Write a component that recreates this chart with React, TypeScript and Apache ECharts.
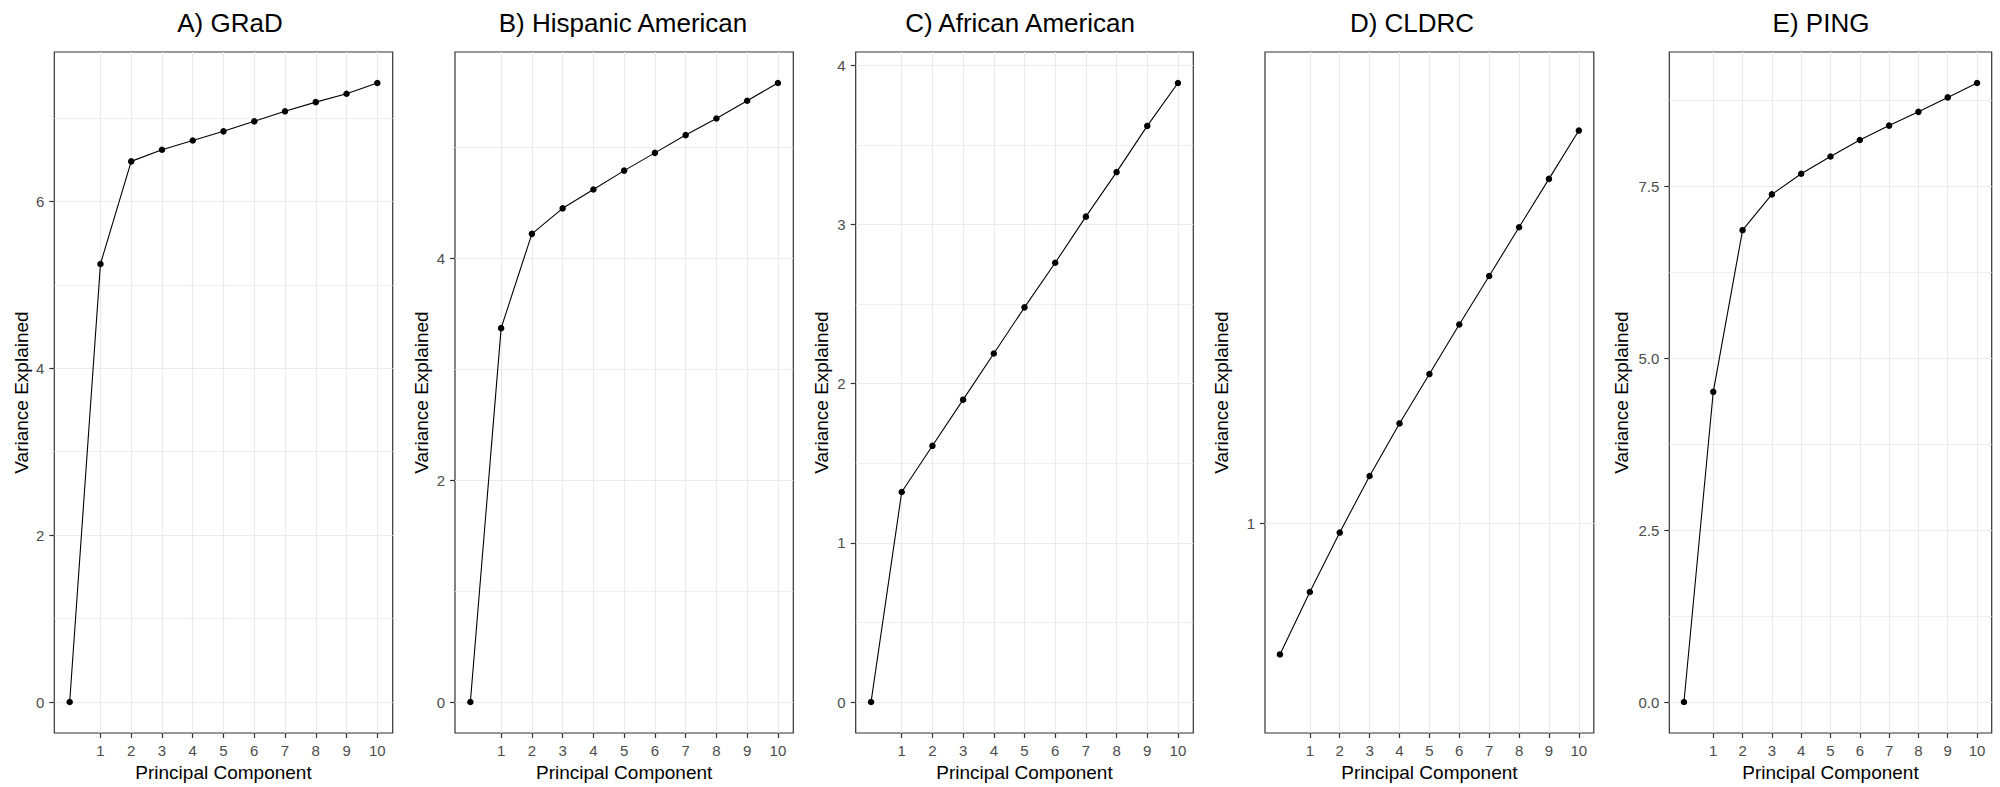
import React, { useEffect, useRef } from "react";
import * as echarts from "echarts";

// Principal components on the x axis (0 = origin of the cumulative curve)
const components = [0, 1, 2, 3, 4, 5, 6, 7, 8, 9, 10];
const componentTicks = [1, 2, 3, 4, 5, 6, 7, 8, 9, 10];

const panelTitles = [
  "A) GRaD",
  "B) Hispanic American",
  "C) African American",
  "D) CLDRC",
  "E) PING",
];

// Cumulative variance explained per cohort
const gradVariance = [0, 5.25, 6.48, 6.62, 6.73, 6.84, 6.96, 7.08, 7.19, 7.29, 7.42];
const hispanicVariance = [0, 3.37, 4.22, 4.45, 4.62, 4.79, 4.95, 5.11, 5.26, 5.42, 5.58];
const africanVariance = [0, 1.32, 1.61, 1.9, 2.19, 2.48, 2.76, 3.05, 3.33, 3.62, 3.89];
const cldrcVariance = [0.74, 0.854, 0.979, 1.115, 1.258, 1.409, 1.579, 1.765, 1.974, 2.206, 2.465];
const pingVariance = [0, 4.51, 6.86, 7.38, 7.68, 7.93, 8.17, 8.38, 8.58, 8.79, 9.0];

// y-axis breaks (major = labelled, minor = light grid only)
const gradMajor = [0, 2, 4, 6];
const gradMinor = [1, 3, 5, 7];
const hispanicMajor = [0, 2, 4];
const hispanicMinor = [1, 3, 5];
const africanMajor = [0, 1, 2, 3, 4];
const africanMinor = [0.5, 1.5, 2.5, 3.5];
const cldrcMajor = [1];
const cldrcMinor: number[] = [];
const pingMajor = [0, 2.5, 5, 7.5];
const pingMinor = [1.25, 3.75, 6.25, 8.75];

const FONT = '"Liberation Sans", Arial, Helvetica, sans-serif';
const GRID_COLOR = "#EBEBEB";
const FRAME_COLOR = "#333333";
const TICK_TEXT = "#4D4D4D";

type Panel = {
  title: string;
  values: number[];
  major: number[];
  minor: number[];
  log: boolean;
  expand: number;
  decimals: number;
};

const panels: Panel[] = [
  { title: panelTitles[0], values: gradVariance, major: gradMajor, minor: gradMinor, log: false, expand: 0.05, decimals: 0 },
  { title: panelTitles[1], values: hispanicVariance, major: hispanicMajor, minor: hispanicMinor, log: false, expand: 0.05, decimals: 0 },
  { title: panelTitles[2], values: africanVariance, major: africanMajor, minor: africanMinor, log: false, expand: 0.05, decimals: 0 },
  { title: panelTitles[3], values: cldrcVariance, major: cldrcMajor, minor: cldrcMinor, log: true, expand: 0.15, decimals: 0 },
  { title: panelTitles[4], values: pingVariance, major: pingMajor, minor: pingMinor, log: false, expand: 0.05, decimals: 1 },
];

// Panel frames in page pixels
const frames = [
  { cell: 0, left: 54.3, right: 392.7, titleX: 230 },
  { cell: 400, left: 455, right: 793.3, titleX: 623 },
  { cell: 800, left: 855.7, right: 1193.3, titleX: 1020 },
  { cell: 1200, left: 1265, right: 1593.8, titleX: 1412 },
  { cell: 1600, left: 1669.3, right: 1991.7, titleX: 1821 },
];
const PLOT_TOP = 52;
const PLOT_BOTTOM = 733;
const WIDTH = 2000;
const HEIGHT = 787;

function yRange(p: Panel): [number, number] {
  if (p.log) {
    const lo = Math.log10(Math.min(...p.values));
    const hi = Math.log10(Math.max(...p.values));
    const span = hi - lo;
    return [Math.pow(10, lo - p.expand * span), Math.pow(10, hi + p.expand * span)];
  }
  const lo = Math.min(...p.values);
  const hi = Math.max(...p.values);
  const span = hi - lo;
  return [lo - p.expand * span, hi + p.expand * span];
}

function buildOption() {
  const grid: any[] = [];
  const xAxis: any[] = [];
  const yAxis: any[] = [];
  const series: any[] = [];
  const title: any[] = [];

  panels.forEach((p, i) => {
    const f = frames[i];
    const [yMin, yMax] = yRange(p);

    title.push({
      text: p.title,
      left: f.titleX,
      top: 10,
      textAlign: "center",
      padding: 0,
      textStyle: { fontSize: 26, fontWeight: "normal", color: "#000", fontFamily: FONT },
    });

    grid.push({
      left: f.left,
      top: PLOT_TOP,
      width: f.right - f.left,
      height: PLOT_BOTTOM - PLOT_TOP,
      show: true,
      borderColor: FRAME_COLOR,
      borderWidth: 1.2,
      backgroundColor: "transparent",
      containLabel: false,
      outerBoundsMode: "none",
    });

    xAxis.push({
      type: "value",
      gridIndex: i,
      position: "bottom",
      min: -0.5,
      max: 10.5,
      axisLine: { show: false, onZero: false },
      axisTick: {
        show: true,
        customValues: componentTicks,
        length: 5,
        inside: false,
        lineStyle: { color: FRAME_COLOR, width: 1.2 },
      },
      axisLabel: {
        customValues: componentTicks,
        margin: 10,
        fontSize: 15,
        color: TICK_TEXT,
        fontFamily: FONT,
      },
      splitLine: { show: true, lineStyle: { color: GRID_COLOR, width: 1.2 } },
      minorSplitLine: { show: false },
      name: "Principal Component",
      nameLocation: "middle",
      nameGap: 30,
      nameTextStyle: { fontSize: 19, color: "#000", fontFamily: FONT },
    });

    // labelled y axis with major grid lines
    yAxis.push({
      type: p.log ? "log" : "value",
      logBase: 10,
      gridIndex: i,
      position: "left",
      min: yMin,
      max: yMax,
      axisLine: { show: false, onZero: false },
      axisTick: {
        show: true,
        customValues: p.major,
        length: 5,
        inside: false,
        lineStyle: { color: FRAME_COLOR, width: 1.2 },
      },
      axisLabel: {
        customValues: p.major,
        margin: 10,
        fontSize: 15,
        color: TICK_TEXT,
        fontFamily: FONT,
        formatter: (v: number) => (p.decimals ? Number(v).toFixed(p.decimals) : String(Number(v))),
      },
      splitLine: { show: true, lineStyle: { color: GRID_COLOR, width: 1.2 } },
      minorSplitLine: { show: false },
      name: "Variance Explained",
      nameLocation: "middle",
      nameRotate: 90,
      nameGap: f.left - f.cell - 30.5,
      nameTextStyle: { fontSize: 19, color: "#000", fontFamily: FONT },
    });

    // companion y axis that only carries the minor grid lines
    yAxis.push({
      type: p.log ? "log" : "value",
      logBase: 10,
      gridIndex: i,
      position: "left",
      min: yMin,
      max: yMax,
      axisLine: { show: false, onZero: false },
      axisTick: { show: false, customValues: p.minor.length ? p.minor : undefined },
      axisLabel: { show: false },
      splitLine: { show: p.minor.length > 0, lineStyle: { color: GRID_COLOR, width: 0.8 } },
      minorSplitLine: { show: false },
    });

    series.push({
      type: "line",
      xAxisIndex: i,
      yAxisIndex: i * 2,
      data: components.map((c, j) => [c, p.values[j]]),
      symbol: "circle",
      symbolSize: 6.5,
      showSymbol: true,
      itemStyle: { color: "#000", borderWidth: 0 },
      lineStyle: { color: "#000", width: 1.1 },
      silent: true,
      z: 5,
    });
  });

  return {
    animation: false,
    backgroundColor: "#ffffff",
    title,
    grid,
    xAxis,
    yAxis,
    series,
  };
}

export default function App() {
  const ref = useRef<HTMLDivElement>(null);

  useEffect(() => {
    document.body.style.margin = "0";
    if (!ref.current) return;
    const chart = echarts.init(ref.current, undefined, { renderer: "svg" });
    chart.setOption(buildOption() as any);
    return () => chart.dispose();
  }, []);

  return <div ref={ref} style={{ width: WIDTH, height: HEIGHT }} />;
}
